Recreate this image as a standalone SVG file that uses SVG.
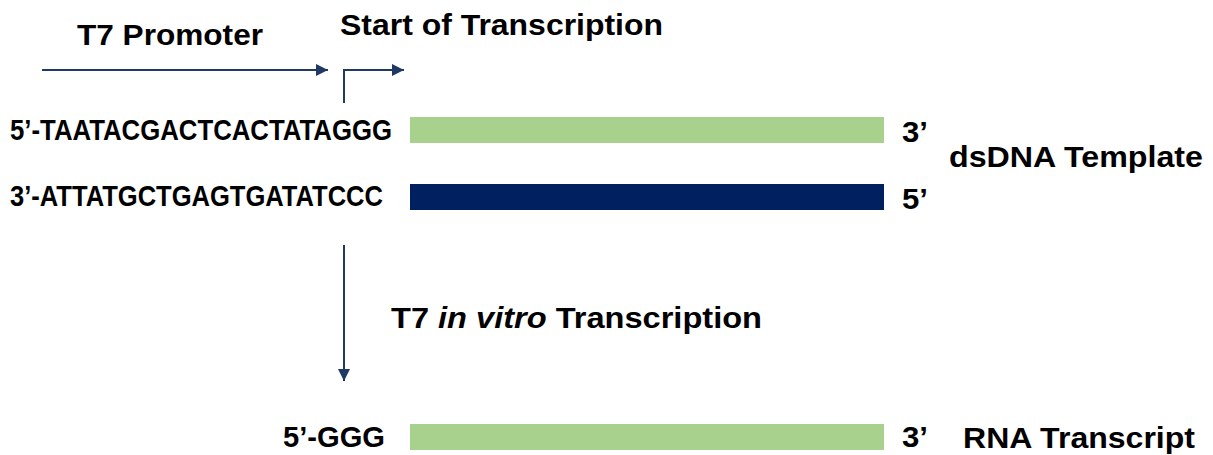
<svg xmlns="http://www.w3.org/2000/svg" width="1213" height="455" viewBox="0 0 1213 455">
<defs>
<style>
.lbl{font-family:"Liberation Sans",Arial,sans-serif;font-weight:bold;fill:#000;font-size:30px;}
.seq{font-family:"Liberation Sans",Arial,sans-serif;font-weight:bold;fill:#000;font-size:30px;}
.arr{stroke:#1f3864;stroke-width:2;fill:none;}
.green{fill:#a9d18e;}
.navy{fill:#002060;}
</style>
<marker id="ah" viewBox="0 0 10 10" refX="10" refY="5" markerWidth="6" markerHeight="6" orient="auto">
<path d="M0,0 L10,5 L0,10 z" fill="#1f3864"/>
</marker>
</defs>
<rect width="1213" height="455" fill="#fff"/>
<g id="connectors">
<line class="arr" x1="42" y1="70" x2="328" y2="70" marker-end="url(#ah)"/>
<polyline class="arr" points="344,103 344,70 404,70" marker-end="url(#ah)"/>
<line class="arr" x1="344" y1="245" x2="344" y2="381" marker-end="url(#ah)"/>
</g>
<g id="label-promoter"><text class="lbl" x="77" y="45" textLength="186" lengthAdjust="spacingAndGlyphs">T7 Promoter</text></g>
<g id="label-start"><text class="lbl" x="340" y="35" textLength="323" lengthAdjust="spacingAndGlyphs">Start of Transcription</text></g>
<g id="strand-top">
<text class="seq" x="10" y="140" textLength="382" lengthAdjust="spacingAndGlyphs">5’-TAATACGACTCACTATAGGG</text>
<rect class="green" x="410" y="117" width="474" height="26"/>
<text class="seq" x="902" y="142" textLength="26" lengthAdjust="spacingAndGlyphs">3’</text>
</g>
<g id="strand-bottom">
<text class="seq" x="10" y="206" textLength="373" lengthAdjust="spacingAndGlyphs">3’-ATTATGCTGAGTGATATCCC</text>
<rect class="navy" x="410" y="184" width="474" height="26"/>
<text class="seq" x="902" y="209" textLength="26" lengthAdjust="spacingAndGlyphs">5’</text>
</g>
<g id="label-dsdna"><text class="lbl" x="949" y="167" textLength="254" lengthAdjust="spacingAndGlyphs">dsDNA Template</text></g>
<g id="label-ivt"><text class="lbl" x="391" y="328" textLength="371" lengthAdjust="spacingAndGlyphs">T7 <tspan font-style="italic">in vitro</tspan> Transcription</text></g>
<g id="rna">
<text class="seq" x="283" y="447" textLength="102" lengthAdjust="spacingAndGlyphs">5’-GGG</text>
<rect class="green" x="410" y="424" width="474" height="26"/>
<text class="seq" x="902" y="447" textLength="26" lengthAdjust="spacingAndGlyphs">3’</text>
</g>
<g id="label-rna"><text class="lbl" x="963" y="448" textLength="232" lengthAdjust="spacingAndGlyphs">RNA Transcript</text></g>
</svg>
